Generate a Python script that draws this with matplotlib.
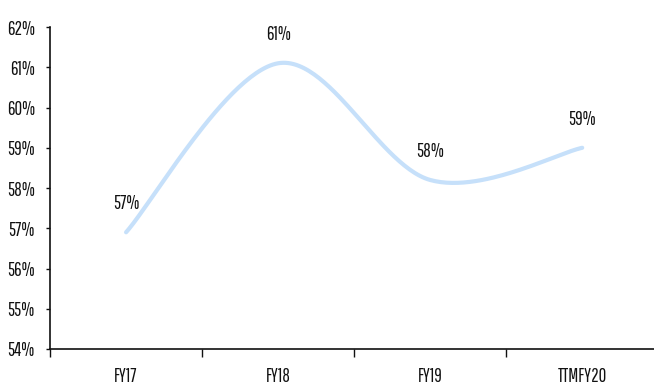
import numpy as np
import matplotlib
matplotlib.use("Agg")
import matplotlib.pyplot as plt
from matplotlib.ticker import FixedLocator, FuncFormatter

plt.rcParams['font.family'] = ['Pathway Gothic One', 'DejaVu Sans']

# Gross margin by period (%)
periods = ["FY17", "FY18", "FY19", "TTMFY20"]
margin = [56.9, 61.1, 58.2, 59.0]
y_ticks = [54, 55, 56, 57, 58, 59, 60, 61, 62]


def smooth_curve(xs, ys, steps=60):
    """Catmull-Rom style Bezier smoothing through the data points."""
    px = np.asarray(xs, float)
    py = np.asarray(ys, float)
    ex = np.concatenate([[px[0]], px, [px[-1]]])
    ey = np.concatenate([[py[0]], py, [py[-1]]])
    out_x, out_y = [], []
    t = np.linspace(0, 1, steps)
    for i in range(1, len(ex) - 2):
        p0 = np.array([ex[i], ey[i]])
        p3 = np.array([ex[i + 1], ey[i + 1]])
        c1 = p0 + (np.array([ex[i + 1], ey[i + 1]]) - np.array([ex[i - 1], ey[i - 1]])) / 6
        c2 = p3 - (np.array([ex[i + 2], ey[i + 2]]) - np.array([ex[i], ey[i]])) / 6
        b = ((1 - t) ** 3)[:, None] * p0 + (3 * (1 - t) ** 2 * t)[:, None] * c1 \
            + (3 * (1 - t) * t ** 2)[:, None] * c2 + (t ** 3)[:, None] * p3
        out_x.extend(b[:, 0])
        out_y.extend(b[:, 1])
    return np.array(out_x), np.array(out_y)


fig = plt.figure(figsize=(6.54, 3.86), dpi=100)
ax = fig.add_axes([0.0765, 0.0959, 0.93, 0.834])

x = np.arange(len(periods))
sx, sy = smooth_curve(x, margin)
ax.plot(sx, sy, color="#c6e0fa", lw=3, solid_capstyle="round", clip_on=False)

for xi, v in zip(x, margin):
    ax.annotate(f"{v:.0f}%", (xi, v), xytext=(0, 16.5), textcoords="offset points",
                ha="center", va="baseline", fontsize=13.5, color="#111111")

ax.set_xlim(-0.5, len(periods) - 0.5)
ax.set_ylim(y_ticks[0], y_ticks[-1])

ax.yaxis.set_major_locator(FixedLocator(y_ticks))
ax.yaxis.set_major_formatter(FuncFormatter(lambda v, p: f"{v:.0f}%"))

ax.xaxis.set_major_locator(FixedLocator(np.arange(len(periods) + 1) - 0.5))
ax.xaxis.set_major_formatter(FuncFormatter(lambda v, p: ""))
ax.xaxis.set_minor_locator(FixedLocator(x))
ax.set_xticklabels(periods, minor=True)

ax.tick_params(axis="x", which="major", direction="out", length=6, width=1, color="#111111")
ax.tick_params(axis="x", which="minor", length=0, pad=13, labelsize=13.5, labelcolor="#111111")
ax.tick_params(axis="y", direction="out", length=3, width=1, pad=8, labelsize=13.5,
               color="#111111", labelcolor="#111111")

for side in ("top", "right"):
    ax.spines[side].set_visible(False)
for side in ("left", "bottom"):
    ax.spines[side].set_linewidth(1.2)
    ax.spines[side].set_color("#111111")

fig.savefig("out.png", dpi=100)
